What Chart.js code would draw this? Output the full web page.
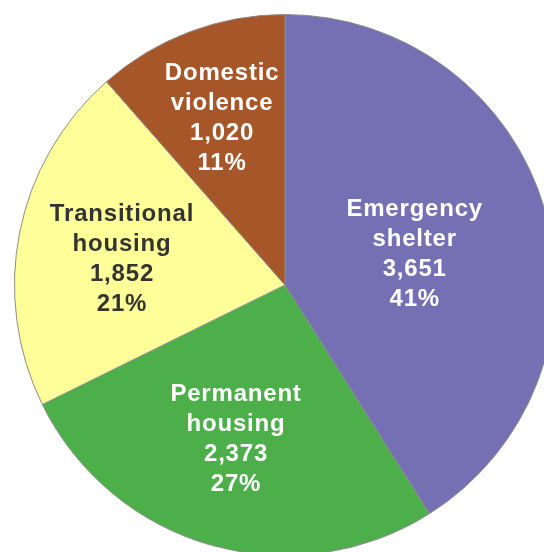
<!DOCTYPE html>
<html>
<head>
<meta charset="utf-8">
<script src="https://cdn.jsdelivr.net/npm/chart.js@4.4.0/dist/chart.umd.min.js"></script>
<style>
  html, body { margin: 0; padding: 0; background: #fff; overflow: hidden; }
  #wrap { position: absolute; left: 0; top: 0; width: 570px; height: 570px; }
</style>
</head>
<body>
<div id="wrap"><canvas id="pieChart" width="570" height="570"></canvas></div>
<script>
const categories = ['Emergency shelter', 'Permanent housing', 'Transitional housing', 'Domestic violence'];
const labelLines = [['Emergency', 'shelter'], ['Permanent', 'housing'], ['Transitional', 'housing'], ['Domestic', 'violence']];
const counts = [3651, 2373, 1852, 1020];

const sliceColors = ['#7570b3', '#4daf4a', '#ffff99', '#a65628'];
const textColors = ['#ffffff', '#ffffff', '#333333', '#ffffff'];
// label block placement: fraction of radius, and a small nudge in degrees
const labelDist = [0.493, 0.6, 0.61, 0.66];
const labelNudge = [2.7, 1.8, -2.3, 0];

const total = counts.reduce((a, b) => a + b, 0);

// draws the stacked label / count / percent text inside each slice
const sliceLabels = {
  id: 'sliceLabels',
  afterDatasetsDraw(chart) {
    const ctx = chart.ctx;
    const meta = chart.getDatasetMeta(0);
    ctx.save();
    ctx.font = 'bold 24px "Liberation Sans", Arial, sans-serif';
    ctx.letterSpacing = '0.8px';
    ctx.textAlign = 'center';
    ctx.textBaseline = 'middle';
    meta.data.forEach((arc, i) => {
      const p = arc.getProps(['x', 'y', 'startAngle', 'endAngle', 'outerRadius'], true);
      const mid = (p.startAngle + p.endAngle) / 2 + labelNudge[i] * Math.PI / 180;
      const d = p.outerRadius * labelDist[i];
      const cx = p.x + Math.cos(mid) * d;
      const cy = p.y + Math.sin(mid) * d;
      const v = counts[i];
      const lines = labelLines[i].concat([v.toLocaleString('en-US'), Math.round(v / total * 100) + '%']);
      const lh = 30;
      const top = cy - (lines.length - 1) * lh / 2;
      ctx.fillStyle = textColors[i];
      lines.forEach((t, j) => ctx.fillText(t, cx, top + j * lh));
    });
    ctx.restore();
  }
};

new Chart(document.getElementById('pieChart'), {
  type: 'pie',
  data: {
    labels: categories,
    datasets: [{
      data: counts,
      backgroundColor: sliceColors,
      borderColor: '#8c8c8c',
      borderWidth: 1
    }]
  },
  options: {
    responsive: false,
    animation: false,
    layout: { padding: 14 },
    plugins: {
      legend: { display: false },
      tooltip: { enabled: false }
    }
  },
  plugins: [sliceLabels]
});
</script>
</body>
</html>
